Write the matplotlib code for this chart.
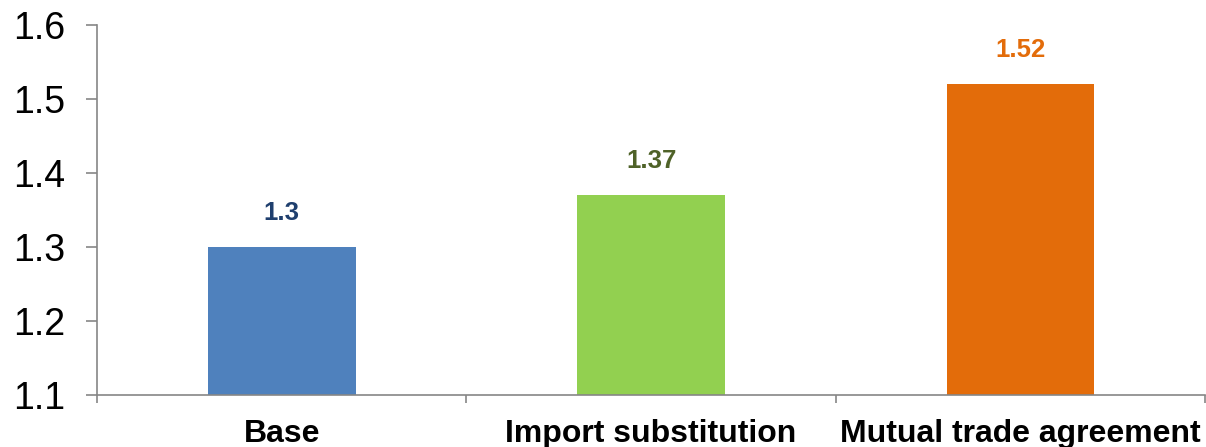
import matplotlib.pyplot as plt
import numpy as np

plt.rcParams['font.family'] = ['Liberation Sans', 'DejaVu Sans']

categories = ['Base', 'Import substitution', 'Mutual trade agreement']
values = [1.30, 1.37, 1.52]
labels = ['1.3', '1.37', '1.52']
bar_colors = ['#4F81BD', '#92D050', '#E36C0A']
label_colors = ['#1F3F6E', '#4F6228', '#E36C0A']

fig = plt.figure(figsize=(12.06, 4.47), dpi=100)
ax = fig.add_axes([0.0804, 0.1163, 0.919, 0.828])

x = np.arange(len(categories))
ax.bar(x, np.array(values) - 1.1, bottom=1.1, width=0.4, color=bar_colors)

for xi, v, lab, c in zip(x, values, labels, label_colors):
    ax.annotate(lab, (xi, v), xytext=(0, 16), textcoords='offset points',
                ha='center', va='bottom', fontsize=18.5, fontweight='bold', color=c)

ax.set_xlim(-0.5, 2.5)
ax.set_ylim(1.1, 1.6)
ax.set_yticks([1.1, 1.2, 1.3, 1.4, 1.5, 1.6])
ax.set_yticklabels(['1.1', '1.2', '1.3', '1.4', '1.5', '1.6'], fontsize=27)

ax.set_xticks(x)
ax.set_xticklabels(categories, fontsize=23, fontweight='bold')
ax.set_xticks([-0.5, 0.5, 1.5, 2.5], minor=True)
ax.tick_params(axis='x', which='major', length=0, pad=17)
ax.tick_params(axis='x', which='minor', length=6, width=1.2, color='#868686')
ax.tick_params(axis='y', length=8, width=1.2, color='#868686', pad=15)

for s in ['top', 'right']:
    ax.spines[s].set_visible(False)
for s in ['left', 'bottom']:
    ax.spines[s].set_color('#868686')
    ax.spines[s].set_linewidth(1.2)

fig.savefig('out.png', dpi=100)
